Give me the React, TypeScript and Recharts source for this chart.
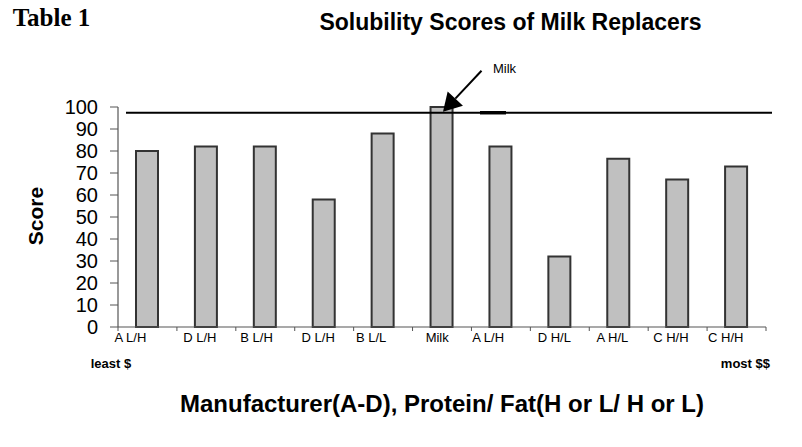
import React from 'react';
import { BarChart, Bar, XAxis, YAxis, ReferenceLine, ReferenceDot } from 'recharts';

// ---- data ----
const categories = ['A L/H', 'D L/H', 'B L/H', 'D L/H', 'B L/L', 'Milk', 'A L/H', 'D H/L', 'A H/L', 'C H/H', 'C H/H'];
const scores = [80, 82, 82, 58, 88, 100, 82, 32, 76.5, 67, 73];
const yTicks = [0, 10, 20, 30, 40, 50, 60, 70, 80, 90, 100];
const milkLevel = 97.4;
const milkIndex = 5;
const milkLabel = 'Milk';
const chartTitle = 'Solubility Scores of Milk Replacers';
const tableLabel = 'Table 1';
const xTitle = 'Manufacturer(A-D), Protein/ Fat(H or L/ H or L)';
const yTitle = 'Score';
const leastLabel = 'least $';
const mostLabel = 'most $$';

const data = categories.map((c, i) => ({ idx: i, label: c, score: scores[i] }));

// ---- layout / style ----
const W = 802;
const H = 447;
const M = { top: 107, right: 36, bottom: 80, left: 0 };
const Y_W = 118;
const X_H = 40;
const BAND = (W - M.left - Y_W - M.right) / categories.length;
const LABEL_NUDGE = [-17, -6.5, -8.7, -6, -12, -4.8, -12.7, -5.5, -6.3, -6.7, -10.8];
const SANS = '"Liberation Sans", Arial, Helvetica, sans-serif';
const SERIF = '"Liberation Serif", "Times New Roman", serif';
const AXIS = '#555';

function XTick(props: any) {
  const { x, y, payload } = props;
  const i = Number(payload.value);
  const half = BAND / 2;
  return (
    <g>
      <line x1={x - half} y1={y} x2={x - half} y2={y + 4} stroke={AXIS} strokeWidth={1} />
      {i === categories.length - 1 && (
        <line x1={x + half} y1={y} x2={x + half} y2={y + 4} stroke={AXIS} strokeWidth={1} />
      )}
      <text x={x + LABEL_NUDGE[i]} y={y + 14.7} textAnchor="middle" fontSize={13} fill="#000" fontFamily={SANS}>
        {categories[i]}
      </text>
    </g>
  );
}

function LevelLine(p: any) {
  return <line x1={p.x1 + 8} y1={p.y1} x2={p.x2 + 6} y2={p.y2} stroke="#000" strokeWidth={2} />;
}

function MilkArrow(p: any) {
  const { cx, cy } = p;
  const tipX = cx + 1;
  const tipY = cy - 1;
  const tailX = cx + 39.5;
  const tailY = cy - 42;
  const dx = tailX - tipX;
  const dy = tailY - tipY;
  const len = Math.sqrt(dx * dx + dy * dy);
  const ux = dx / len;
  const uy = dy / len;
  const headLen = 18;
  const halfW = 10.5;
  const bx = tipX + ux * headLen;
  const by = tipY + uy * headLen;
  const pts = `${tipX},${tipY} ${bx - uy * halfW},${by + ux * halfW} ${bx + uy * halfW},${by - ux * halfW}`;
  return (
    <g>
      <line x1={cx + 38} y1={cy} x2={cx + 64} y2={cy} stroke="#000" strokeWidth={3.5} />
      <line x1={bx} y1={by} x2={tailX} y2={tailY} stroke="#000" strokeWidth={2} />
      <polygon points={pts} fill="#000" />
      <text x={cx + 51} y={cy - 40} fontSize={13} fill="#000" fontFamily={SANS}>
        {milkLabel}
      </text>
    </g>
  );
}

export default function App() {
  return (
    <div style={{ position: 'absolute', left: 0, top: 0, width: W, height: H, background: '#fff' }}>
      <BarChart width={W} height={H} data={data} margin={M}>
        <XAxis
          dataKey="idx"
          type="category"
          height={X_H}
          interval={0}
          tickLine={false}
          tickSize={0}
          tickMargin={0}
          axisLine={{ stroke: AXIS, strokeWidth: 1.2 }}
          tick={<XTick />}
        />
        <YAxis
          type="number"
          domain={[0, 100]}
          ticks={yTicks}
          interval={0}
          width={Y_W}
          tickSize={8}
          tickMargin={12}
          axisLine={{ stroke: AXIS, strokeWidth: 1.2 }}
          tickLine={{ stroke: AXIS }}
          tick={{ fontSize: 20, fill: '#000', fontFamily: SANS }}
        />
        <Bar dataKey="score" fill="#c0c0c0" stroke="#333" strokeWidth={2} barSize={22} isAnimationActive={false} />
        <ReferenceLine y={milkLevel} shape={LevelLine} />
        <ReferenceDot x={milkIndex} y={milkLevel} shape={MilkArrow} />
      </BarChart>
      <svg width={W} height={H} style={{ position: 'absolute', left: 0, top: 0, pointerEvents: 'none' }}>
        <text x={12.7} y={26} fontFamily={SERIF} fontWeight="bold" fontSize={25} fill="#000">
          {tableLabel}
        </text>
        <text x={510.5} y={30} textAnchor="middle" fontFamily={SANS} fontWeight="bold" fontSize={23} fill="#000">
          {chartTitle}
        </text>
        <text
          x={43.3}
          y={216}
          transform="rotate(-90 43.3 216)"
          textAnchor="middle"
          fontFamily={SANS}
          fontWeight="bold"
          fontSize={21}
          fill="#000"
        >
          {yTitle}
        </text>
        <text x={90.7} y={368} fontFamily={SANS} fontWeight="bold" fontSize={13} fill="#000">
          {leastLabel}
        </text>
        <text x={770} y={368} textAnchor="end" fontFamily={SANS} fontWeight="bold" fontSize={13} fill="#000">
          {mostLabel}
        </text>
        <text x={442} y={412} textAnchor="middle" fontFamily={SANS} fontWeight="bold" fontSize={24} fill="#000">
          {xTitle}
        </text>
      </svg>
    </div>
  );
}
